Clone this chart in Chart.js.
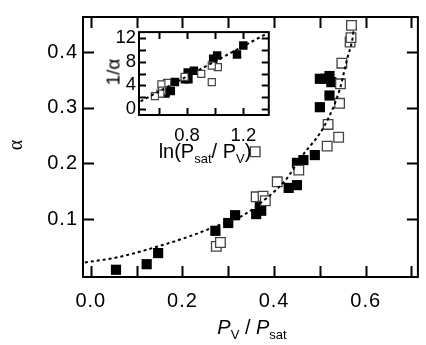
<!DOCTYPE html>
<html>
<head>
<meta charset="utf-8">
<script src="https://cdn.jsdelivr.net/npm/chart.js@4.4.1/dist/chart.umd.min.js"></script>
<style>
  html, body { margin: 0; padding: 0; background: #fff; }
  #wrap { position: relative; width: 426px; height: 345px; overflow: hidden;
          font-family: "Liberation Sans", Arial, sans-serif; color: #000; }
  #main { position: absolute; left: 0; top: 0; }
  #inset { position: absolute; left: 95px; top: 18px; }
  .lbl { position: absolute; white-space: nowrap; line-height: 1; transform: translate(-50%, -50%); }
  .sub { font-size: 13px; position: relative; top: 5px; font-style: normal; }
</style>
</head>
<body>
<div id="wrap">
  <canvas id="main" width="426" height="345"></canvas>
  <canvas id="inset" width="180" height="150"></canvas>
  <div class="lbl" style="left:15px;top:145px;font:20px 'Liberation Serif',serif;transform:translate(-50%,-50%) rotate(-90deg);">α</div>
  <div class="lbl" style="left:252px;top:327px;font-size:20px;"><i>P</i><span class="sub">V</span> / <i>P</i><span class="sub">sat</span></div>
  <div class="lbl" style="left:113px;top:72px;font-size:19px;transform:translate(-50%,-50%) rotate(-90deg);">1/α</div>
  <div class="lbl" style="left:205px;top:151px;font-size:20px;">ln(P<span class="sub">sat</span>/ P<span class="sub">V</span>)</div>
</div>
<script>
// main panel: alpha vs P_V/P_sat
const filledX = [0.055, 0.122, 0.147, 0.272, 0.300, 0.315, 0.361, 0.372, 0.369, 0.372, 0.432, 0.450, 0.450, 0.464, 0.489, 0.500, 0.521, 0.500, 0.512, 0.521, 0.525];
const filledY = [0.009, 0.019, 0.039, 0.079, 0.093, 0.107, 0.109, 0.115, 0.122, 0.137, 0.156, 0.161, 0.201, 0.206, 0.215, 0.301, 0.322, 0.352, 0.352, 0.357, 0.346];
const openX = [0.274, 0.283, 0.361, 0.376, 0.381, 0.359, 0.407, 0.454, 0.516, 0.541, 0.518, 0.543, 0.545, 0.548, 0.566, 0.568, 0.569];
const openY = [0.051, 0.058, 0.140, 0.141, 0.133, 0.221, 0.167, 0.188, 0.231, 0.247, 0.270, 0.308, 0.343, 0.380, 0.418, 0.426, 0.448];
const fitX = [-0.013, 0.062, 0.147, 0.212, 0.276, 0.333, 0.390, 0.425, 0.461, 0.511, 0.543, 0.560, 0.571, 0.574];
const fitY = [0.022, 0.032, 0.051, 0.068, 0.088, 0.107, 0.142, 0.170, 0.213, 0.269, 0.332, 0.389, 0.423, 0.441];
const xLabels = [0, 0.2, 0.4, 0.6];
const xMarks = [0, 0.1, 0.2, 0.3, 0.4, 0.5, 0.6, 0.7];
const yLabels = [0.1, 0.2, 0.3, 0.4];

// inset: 1/alpha vs ln(P_sat/P_V)
const insetFilledX = [1.200, 1.155, 1.014, 0.986, 0.984, 0.849, 0.805, 0.785, 0.810, 0.714, 0.685, 0.646, 0.647];
const insetFilledY = [10.78, 9.23, 9.07, 8.52, 7.48, 6.48, 6.18, 5.02, 5.02, 4.57, 3.03, 2.87, 2.59];
const insetOpenX = [0.976, 0.901, 1.019, 0.976, 0.783, 0.659, 0.618, 0.623, 0.611, 0.572];
const insetOpenY = [4.55, 5.95, 7.10, 7.35, 5.43, 4.40, 4.14, 3.10, 2.60, 2.17];
const insetFitX = [0.470, 1.371];
const insetFitY = [1.29, 12.84];
const insetXLabels = [0.8, 1.2];
const insetXMarks = [0.6, 0.8, 1.0, 1.2];
const insetYLabels = [0, 4, 8, 12];
const insetYMarks = [0, 2, 4, 6, 8, 10, 12];

const pts = (xs, ys) => xs.map((x, i) => ({ x: x, y: ys[i] }));

// box around the plot with inward ticks on all four sides
const frameTicks = {
  id: 'frameTicks',
  beforeDraw(chart, args, opts) {
    // the original's tick numbers are set a little wide
    chart.ctx.letterSpacing = opts.spacing;
  },
  afterDraw(chart, args, opts) {
    const { ctx, chartArea: a, scales: { x, y } } = chart;
    ctx.save();
    ctx.strokeStyle = '#000';
    ctx.lineWidth = opts.width;
    ctx.beginPath();
    opts.xMarks.forEach((v) => {
      const px = Math.round(x.getPixelForValue(v)) + 0.5;
      ctx.moveTo(px, a.bottom); ctx.lineTo(px, a.bottom - opts.len);
      ctx.moveTo(px, a.top); ctx.lineTo(px, a.top + opts.len);
    });
    opts.yMarks.forEach((v) => {
      const py = Math.round(y.getPixelForValue(v)) + 0.5;
      ctx.moveTo(a.left, py); ctx.lineTo(a.left + opts.len, py);
      ctx.moveTo(a.right, py); ctx.lineTo(a.right - opts.len, py);
    });
    ctx.stroke();
    ctx.strokeRect(a.left, a.top, a.right - a.left, a.bottom - a.top);
    ctx.restore();
  },
};

const fontFamily = "'Liberation Sans', Arial, sans-serif";

new Chart(document.getElementById('main'), {
  type: 'scatter',
  plugins: [frameTicks],
  data: {
    datasets: [
      {
        data: pts(fitX, fitY),
        showLine: true,
        borderColor: '#000',
        borderWidth: 2,
        borderDash: [3, 3],
        pointRadius: 0,
        cubicInterpolationMode: 'monotone',
      },
      {
        data: pts(openX, openY),
        pointStyle: 'rect',
        pointRadius: 6.8,
        pointBackgroundColor: '#fff',
        pointBorderColor: '#444',
        pointBorderWidth: 1.3,
      },
      {
        data: pts(filledX, filledY),
        pointStyle: 'rect',
        pointRadius: 7.2,
        pointBackgroundColor: '#000',
        pointBorderWidth: 0,
      },
    ],
  },
  options: {
    responsive: false,
    animation: false,
    events: [],
    layout: { padding: { top: 3, right: 1 } },
    plugins: {
      legend: { display: false },
      tooltip: { enabled: false },
      frameTicks: { xMarks: xMarks, yMarks: yLabels, len: 11, width: 2, spacing: '1px' },
    },
    scales: {
      x: {
        type: 'linear',
        min: -0.017,
        max: 0.714,
        grid: { display: false, drawTicks: false },
        border: { display: false },
        afterBuildTicks: (s) => { s.ticks = xLabels.map((v) => ({ value: v })); },
        afterFit: (s) => { s.height = 68; },
        ticks: { color: '#000', font: { family: fontFamily, size: 20 }, padding: 12, maxRotation: 0, callback: (v) => v.toFixed(1) },
      },
      y: {
        type: 'linear',
        min: -0.004,
        max: 0.463,
        grid: { display: false, drawTicks: false },
        border: { display: false },
        afterBuildTicks: (s) => { s.ticks = yLabels.map((v) => ({ value: v })); },
        afterFit: (s) => { s.width = 83; },
        ticks: { color: '#000', font: { family: fontFamily, size: 20 }, padding: 5, callback: (v) => v.toFixed(1) },
      },
    },
  },
});

new Chart(document.getElementById('inset'), {
  type: 'scatter',
  plugins: [frameTicks],
  data: {
    datasets: [
      {
        data: pts(insetFitX, insetFitY),
        showLine: true,
        borderColor: '#000',
        borderWidth: 2,
        borderDash: [3, 3],
        pointRadius: 0,
      },
      {
        data: pts(insetOpenX, insetOpenY),
        pointStyle: 'rect',
        pointRadius: 5,
        pointBackgroundColor: '#fff',
        pointBorderColor: '#444',
        pointBorderWidth: 1.2,
      },
      {
        data: pts(insetFilledX, insetFilledY),
        pointStyle: 'rect',
        pointRadius: 6,
        pointBackgroundColor: '#000',
        pointBorderWidth: 0,
      },
    ],
  },
  options: {
    responsive: false,
    animation: false,
    events: [],
    layout: { padding: { top: 6, right: 6 } },
    plugins: {
      legend: { display: false },
      tooltip: { enabled: false },
      frameTicks: { xMarks: insetXMarks, yMarks: insetYMarks, len: 7, width: 2, spacing: '0px' },
    },
    scales: {
      x: {
        type: 'linear',
        min: 0.459,
        max: 1.381,
        grid: { display: false, drawTicks: false },
        border: { display: false },
        afterBuildTicks: (s) => { s.ticks = insetXLabels.map((v) => ({ value: v })); },
        afterFit: (s) => { s.height = 53; },
        ticks: { color: '#000', font: { family: fontFamily, size: 18.5 }, padding: 10, maxRotation: 0, callback: (v) => v.toFixed(1) },
      },
      y: {
        type: 'linear',
        min: -1.04,
        max: 13.04,
        grid: { display: false, drawTicks: false },
        border: { display: false },
        afterBuildTicks: (s) => { s.ticks = insetYLabels.map((v) => ({ value: v })); },
        afterFit: (s) => { s.width = 44; },
        ticks: { color: '#000', font: { family: fontFamily, size: 18.5 }, padding: 3, callback: (v) => String(v) },
      },
    },
  },
});
</script>
</body>
</html>
